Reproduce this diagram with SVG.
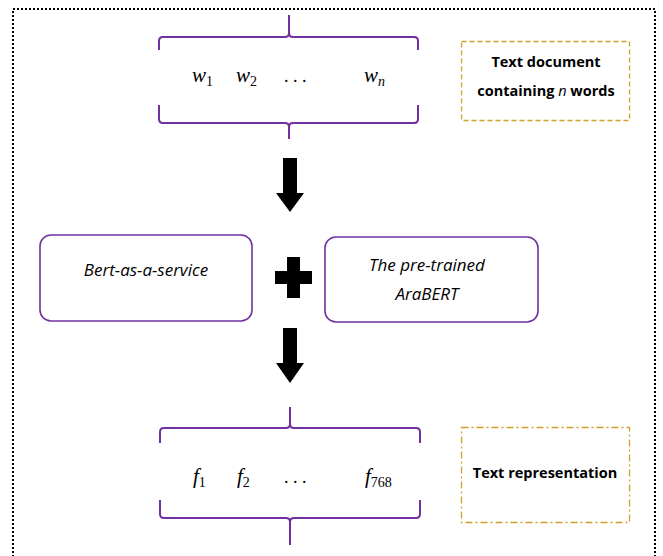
<svg xmlns="http://www.w3.org/2000/svg" width="663" height="556" viewBox="0 0 663 556">
  <defs>
    <style>
      .frame { fill: none; stroke: #000; stroke-width: 2; stroke-dasharray: 2 2; }
      .brace { fill: none; stroke: #7030A0; stroke-width: 2; stroke-linejoin: round; }
      .box { fill: #fff; stroke: #7030A0; stroke-width: 1.6; }
      .note { fill: none; stroke: #D0A12A; stroke-width: 1.3; }
      .dash { stroke-dasharray: 5 3; }
      .dashdot { stroke-dasharray: 7 3 2 3; }
      .math { font-family: "Liberation Serif", "DejaVu Serif", serif; font-style: italic; font-size: 21px; fill: #000; }
      .sub { font-family: "Liberation Serif", "DejaVu Serif", serif; font-style: normal; font-size: 14px; }
      .sub-it { font-style: italic; }
      .dots { font-family: "Liberation Serif", serif; font-size: 18px; fill: #000; }
      .label { font-family: "Open Sans", "Liberation Sans", sans-serif; font-style: italic; font-size: 17px; fill: #000; text-anchor: middle; }
      .tag { font-family: "Open Sans", "Liberation Sans", sans-serif; font-weight: bold; font-size: 14.5px; fill: #000; text-anchor: middle; }
      .solid { fill: #000; }
    </style>
  </defs>

  <!-- dotted frame (runs past the lower edge) -->
  <rect class="frame" x="13" y="9" width="642" height="560"/>

  <!-- input word vector -->
  <g id="input-words">
    <path class="brace" d="M289 15 V33 Q289 37 285 37 H163 Q159 37 159 41 V50"/>
    <path class="brace" d="M289 33 Q289 37 293 37 H414 Q418 37 418 41 V50"/>
    <path class="brace" d="M159 105 V119 Q159 123 163 123 H285 Q289 123 289 127 V139"/>
    <path class="brace" d="M418 105 V119 Q418 123 414 123 H293 Q289 123 289 127"/>
    <text class="math" x="192" y="82">w<tspan class="sub" dy="4">1</tspan></text>
    <text class="math" x="236" y="82">w<tspan class="sub" dy="4">2</tspan></text>
    <text class="dots" x="284" y="82">. . .</text>
    <text class="math" x="364" y="82">w<tspan class="sub sub-it" dy="4">n</tspan></text>
  </g>

  <g id="input-note">
    <rect class="note dash" x="461.5" y="41.5" width="168" height="79"/>
    <text class="tag" x="546" y="67">Text document</text>
    <text class="tag" x="546" y="96">containing <tspan font-style="italic" font-weight="normal">n</tspan> words</text>
  </g>

  <!-- encoder parts -->
  <g id="bert-service">
    <rect class="box" x="40" y="235" width="212" height="86" rx="11"/>
    <text class="label" x="146" y="276">Bert-as-a-service</text>
  </g>

  <g id="plus">
    <path class="solid" d="M287 257 H300 V271 H312 V284 H300 V298 H287 V284 H275 V271 H287 Z"/>
  </g>

  <g id="arabert">
    <rect class="box" x="325" y="237" width="213" height="85" rx="11"/>
    <text class="label" x="427" y="271">The pre-trained</text>
    <text class="label" x="427" y="300">AraBERT</text>
  </g>

  <!-- output feature vector -->
  <g id="output-features">
    <path class="brace" d="M290 407 V424 Q290 428 286 428 H164 Q160 428 160 432 V443"/>
    <path class="brace" d="M290 424 Q290 428 294 428 H416 Q420 428 420 432 V443"/>
    <path class="brace" d="M160 500 V514 Q160 518 164 518 H286 Q290 518 290 522 V545"/>
    <path class="brace" d="M420 500 V514 Q420 518 416 518 H294 Q290 518 290 522"/>
    <text class="math" x="193" y="483">f<tspan class="sub" dy="4">1</tspan></text>
    <text class="math" x="237" y="483">f<tspan class="sub" dy="4">2</tspan></text>
    <text class="dots" x="284" y="483">. . .</text>
    <text class="math" x="365" y="483">f<tspan class="sub" dy="4">768</tspan></text>
  </g>

  <g id="output-note">
    <rect class="note dashdot" x="461.5" y="427.5" width="168" height="95"/>
    <text class="tag" x="545" y="478">Text representation</text>
  </g>

  <!-- flow arrows -->
  <g id="connectors">
    <path class="solid" d="M283 158 H297 V193 H304 L290 212 L276 193 H283 Z"/>
    <path class="solid" d="M283 328 H297 V363 H304 L290 383 L276 363 H283 Z"/>
  </g>
</svg>
